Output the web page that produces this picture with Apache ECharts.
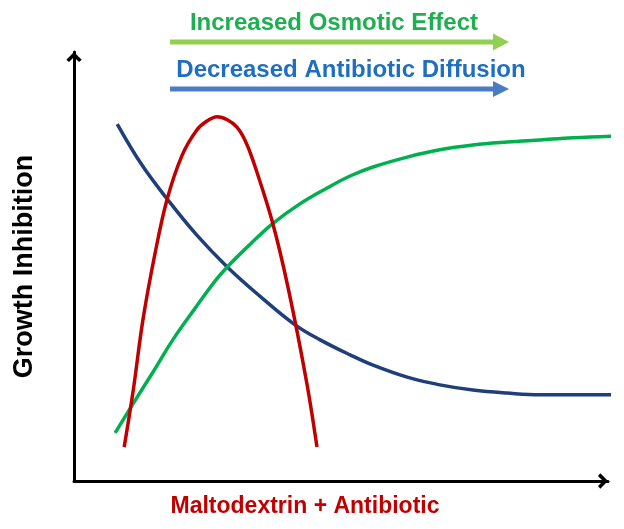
<!DOCTYPE html>
<html>
<head>
<meta charset="utf-8">
<script src="https://cdn.jsdelivr.net/npm/echarts@6/dist/echarts.min.js"></script>
<style>html,body{margin:0;padding:0;background:#fff;}#c{width:624px;height:529px;}</style>
</head>
<body>
<div id="c"></div>
<script>
// Schematic curves, x and y on a 0-100 scale
const redX = [9.4, 11.1, 12.9, 15.2, 17.4, 20.2, 23.0, 24.9, 26.8, 28.7, 30.5, 32.0, 33.5, 37.1, 40.1, 43.6, 45.5];
const redY = [7.9, 21.2, 37.5, 53.2, 65.5, 75.8, 81.8, 83.9, 84.9, 84.2, 82.5, 79.5, 74.8, 60.6, 45.0, 22.8, 7.9];

const blueX = [8.1, 12.7, 17.6, 23.0, 28.7, 34.8, 41.4, 46.1, 51.7, 56.0, 62.4, 68.5, 74.7, 81.1, 87.3, 93.8, 100.9];
const blueY = [83.2, 73.7, 65.5, 57.3, 49.9, 43.1, 36.4, 32.9, 29.4, 27.0, 24.2, 22.4, 21.2, 20.5, 20.1, 20.1, 20.1];

const greenX = [7.7, 10.9, 14.8, 18.5, 22.7, 26.4, 28.7, 33.0, 37.1, 42.3, 47.4, 51.7, 56.0, 62.4, 68.5, 74.7, 81.1, 87.3, 93.5, 100.9];
const greenY = [11.2, 17.7, 25.4, 32.9, 40.3, 46.6, 49.9, 55.2, 59.9, 64.6, 68.3, 71.1, 73.2, 75.5, 77.2, 78.3, 79.0, 79.5, 80.0, 80.4];

const xTitle = 'Maltodextrin + Antibiotic';
const yTitle = 'Growth Inhibition';
const arrowLabels = ['Increased Osmotic Effect', 'Decreased Antibiotic Diffusion'];

const zip = (xs, ys) => xs.map((x, i) => [x, ys[i]]);
const chevron = 'path://M0,10 L10,0 L20,10 L16.5,13 L10,6.5 L3.5,13 Z';
const FONT = '"Liberation Sans", Arial, sans-serif';

const chart = echarts.init(document.getElementById('c'), null, {renderer: 'canvas'});
chart.setOption({
  animation: false,
  backgroundColor: '#ffffff',
  grid: {left: 74, right: 16, top: 52, bottom: 48, containLabel: false},
  xAxis: {
    type: 'value', min: 0, max: 100,
    name: xTitle, nameLocation: 'middle', nameGap: 14,
    nameTextStyle: {color: '#C00000', fontSize: 23, fontWeight: 'bold', fontFamily: FONT, padding: [0, 72, 0, 0], verticalAlign: 'top'},
    axisLine: {show: true, lineStyle: {color: '#000', width: 3}, symbol: ['none', chevron], symbolSize: [16, 10], symbolOffset: [0, -5]},
    axisTick: {show: false}, axisLabel: {show: false}, splitLine: {show: false}
  },
  yAxis: {
    type: 'value', min: 0, max: 100,
    name: yTitle, nameLocation: 'middle', nameGap: 36,
    nameTextStyle: {color: '#000', fontSize: 27, fontWeight: 'bold', fontFamily: FONT},
    axisLine: {show: true, lineStyle: {color: '#000', width: 3}, symbol: ['none', chevron], symbolSize: [16, 10], symbolOffset: [0, -5]},
    axisTick: {show: false}, axisLabel: {show: false}, splitLine: {show: false}
  },
  series: [
    {type: 'line', data: zip(blueX, blueY), smooth: 0.4, showSymbol: false, clip: false,
     lineStyle: {color: '#1F3F7A', width: 3.5}},
    {type: 'line', data: zip(greenX, greenY), smooth: 0.4, showSymbol: false, clip: false,
     lineStyle: {color: '#00B04F', width: 3.5}},
    {type: 'line', data: zip(redX, redY), smooth: 0.35, showSymbol: false, clip: false,
     lineStyle: {color: '#C00000', width: 3.5}}
  ],
  graphic: [
    {type: 'text', style: {text: arrowLabels[0], fill: '#1DAF50', font: 'bold 24px ' + FONT, textAlign: 'center', textVerticalAlign: 'middle', x: 334, y: 23}},
    {type: 'line', shape: {x1: 170, y1: 42, x2: 496, y2: 42}, style: {stroke: '#92D050', lineWidth: 5}},
    {type: 'polygon', shape: {points: [[493, 33.5], [509, 42], [493, 50.5]]}, style: {fill: '#92D050'}},
    {type: 'text', style: {text: arrowLabels[1], fill: '#1F6FC1', font: 'bold 24px ' + FONT, textAlign: 'center', textVerticalAlign: 'middle', x: 351, y: 70}},
    {type: 'line', shape: {x1: 170, y1: 89, x2: 496, y2: 89}, style: {stroke: '#4A7CC4', lineWidth: 5}},
    {type: 'polygon', shape: {points: [[493, 81], [509, 89], [493, 97]]}, style: {fill: '#4A7CC4'}}
  ]
});
</script>
</body>
</html>
